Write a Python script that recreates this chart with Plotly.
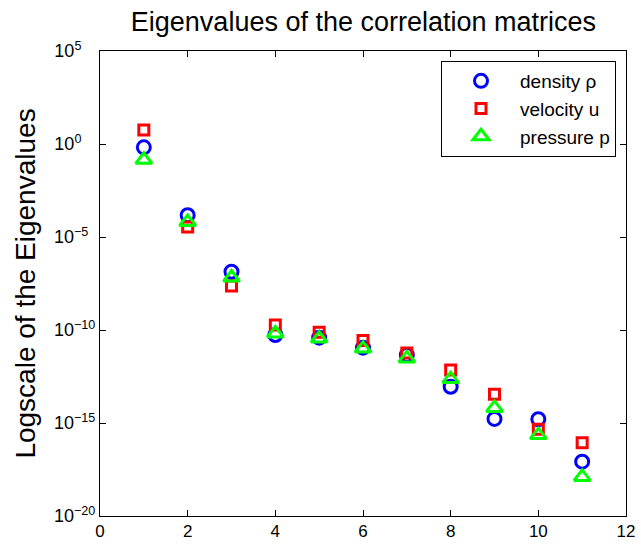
import plotly.graph_objects as go

x_idx = [1, 2, 3, 4, 5, 6, 7, 8, 9, 10, 11]
density_log = [-0.18, -3.83, -6.87, -10.27, -10.41, -10.95, -11.34, -13.05, -14.78, -14.80, -17.08]
velocity_log = [0.75, -4.46, -7.63, -9.73, -10.12, -10.57, -11.24, -12.15, -13.46, -15.34, -16.06]
pressure_log = [-0.85, -4.19, -7.18, -10.19, -10.46, -11.00, -11.53, -12.64, -14.19, -15.65, -17.90]
names = ["density ρ", "velocity u", "pressure p"]
tick_exps = [5, 0, -5, -10, -15, -20]

density = [10 ** v for v in density_log]
velocity = [10 ** v for v in velocity_log]
pressure = [10 ** v for v in pressure_log]

FONT = "Liberation Sans, Arial, Helvetica, sans-serif"

fig = go.Figure()
fig.add_trace(go.Scatter(x=x_idx, y=density, mode="markers", name=names[0],
                         marker=dict(symbol="circle-open", size=13, color="#0000ff",
                                     line=dict(width=3, color="#0000ff"))))
fig.add_trace(go.Scatter(x=x_idx, y=velocity, mode="markers", name=names[1],
                         marker=dict(symbol="square-open", size=10, color="#ff0000",
                                     line=dict(width=3, color="#ff0000"))))
fig.add_trace(go.Scatter(x=x_idx, y=pressure, mode="markers", name=names[2],
                         marker=dict(symbol="triangle-up-open", size=14, color="#00ff00",
                                     line=dict(width=3, color="#00ff00"))))


def tick_label(e):
    sup = str(e).replace("-", "\u2212")
    pad = "\u2007" * (3 - len(sup))
    return "10<sup>" + sup + pad + "</sup>"


ticktext = [tick_label(e) for e in tick_exps]

fig.update_layout(
    width=641, height=544,
    margin=dict(l=100, r=15, t=51, b=28),
    paper_bgcolor="white", plot_bgcolor="white",
    font=dict(family=FONT, size=18, color="black"),
    title=dict(text="Eigenvalues of the correlation matrices", x=0.567, xanchor="center",
               y=0.96, yanchor="middle", font=dict(size=27, family=FONT, color="black")),
    showlegend=True,
    legend=dict(x=0.981, xanchor="right", y=0.9785, yanchor="top",
                bordercolor="black", borderwidth=1, bgcolor="white",
                font=dict(size=19, family=FONT), tracegroupgap=0, itemwidth=68),
    xaxis=dict(range=[0, 12], dtick=2, tick0=0, showgrid=False, zeroline=False,
               showline=True, linecolor="black", linewidth=1, mirror="ticks",
               ticks="inside", ticklen=6, tickcolor="black", automargin=False,
               ticklabelstandoff=0,
               tickfont=dict(size=17, family=FONT)),
    yaxis=dict(type="log", range=[-20, 5], tickvals=[10 ** e for e in tick_exps],
               ticktext=ticktext, showgrid=False, zeroline=False,
               showline=True, linecolor="black", linewidth=1, mirror="ticks",
               ticks="inside", ticklen=6, tickcolor="black", automargin=False,
               tickfont=dict(size=18, family=FONT),
               title=dict(text="Logscale of the Eigenvalues", standoff=10,
                          font=dict(size=28, family=FONT))),
)

fig.write_html("out.html")
